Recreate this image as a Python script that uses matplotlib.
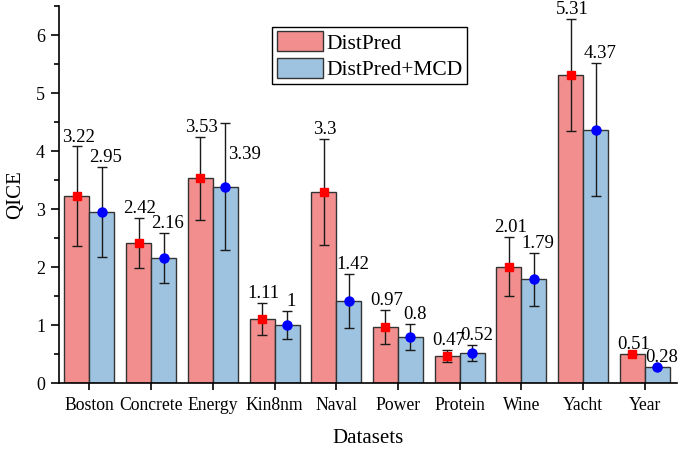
import matplotlib
matplotlib.use("Agg")
import matplotlib.pyplot as plt
import numpy as np
from matplotlib.ticker import MultipleLocator

plt.rcParams['font.family'] = ['Liberation Serif', 'DejaVu Serif']

categories = ["Boston", "Concrete", "Energy", "Kin8nm", "Naval", "Power",
              "Protein", "Wine", "Yacht", "Year"]
distpred = [3.22, 2.42, 3.53, 1.11, 3.3, 0.97, 0.47, 2.01, 5.31, 0.51]
distpred_err = [0.86, 0.43, 0.71, 0.28, 0.91, 0.30, 0.11, 0.51, 0.96, 0.0]
mcd = [2.95, 2.16, 3.39, 1.0, 1.42, 0.8, 0.52, 1.79, 4.37, 0.28]
mcd_err = [0.78, 0.43, 1.09, 0.24, 0.47, 0.23, 0.14, 0.45, 1.15, 0.0]
series_names = ["DistPred", "DistPred+MCD"]

red_bar = "#F28F8E"
blue_bar = "#9DC3E0"

fig = plt.figure(figsize=(6.79, 4.5), dpi=100)
ax = fig.add_axes([59/679, 1-383.3/450, (677-59)/679, (383.3-6)/450])

x = np.arange(len(categories))
w = 0.405

ax.bar(x - w/2, distpred, w, color=red_bar, edgecolor="#333333", linewidth=1.0,
       label=series_names[0], zorder=2)
ax.bar(x + w/2, mcd, w, color=blue_bar, edgecolor="#333333", linewidth=1.0,
       label=series_names[1], zorder=2)

ax.errorbar(x - w/2, distpred, yerr=distpred_err, fmt='none', ecolor='#1a1a1a',
            elinewidth=1.0, capsize=3.5, capthick=1.0, zorder=3)
ax.errorbar(x + w/2, mcd, yerr=mcd_err, fmt='none', ecolor='#1a1a1a',
            elinewidth=1.0, capsize=3.5, capthick=1.0, zorder=3)
ax.plot(x - w/2, distpred, linestyle='none', marker='s', markersize=6,
        color='#FF0000', zorder=4)
ax.plot(x + w/2, mcd, linestyle='none', marker='o', markersize=6.5,
        color='#0000FF', zorder=4)

label_fs = 13.5
for xi, v, e in zip(x - w/2, distpred, distpred_err):
    ax.annotate(f"{v:g}", (xi, v + e), xytext=(1, 3.5), textcoords='offset points',
                ha='center', va='baseline', fontsize=label_fs)
for i, (xi, v, e) in enumerate(zip(x + w/2, mcd, mcd_err)):
    if categories[i] == "Energy":
        ax.annotate(f"{v:g}", (xi, v + e/2), xytext=(2, 0), textcoords='offset points',
                    ha='left', va='center', fontsize=label_fs)
    else:
        ax.annotate(f"{v:g}", (xi, v + e), xytext=(3, 3.5), textcoords='offset points',
                    ha='center', va='baseline', fontsize=label_fs)

ax.set_xlim(-0.491, 9.52)
ax.set_ylim(0, 6.5)
ax.set_xticks(x)
ax.set_xticklabels(categories)
ax.yaxis.set_major_locator(MultipleLocator(1))
ax.yaxis.set_minor_locator(MultipleLocator(0.5))

ax.spines['top'].set_visible(False)
ax.spines['right'].set_visible(False)
ax.spines['left'].set_linewidth(1.2)
ax.spines['bottom'].set_linewidth(1.2)
ax.tick_params(axis='y', which='major', direction='out', length=6, width=1.2,
               labelsize=13, pad=4)
ax.tick_params(axis='y', which='minor', direction='out', length=3.5, width=1.2)
ax.tick_params(axis='x', which='major', direction='out', length=5, width=1.2,
               labelsize=12.7, pad=5)

ax.set_xlabel("Datasets", fontsize=15, labelpad=11)
ax.set_ylabel("QICE", fontsize=15, labelpad=8)

leg = ax.legend(loc='upper left', bbox_to_anchor=(0.345, 0.945), fontsize=15.5,
                frameon=True, fancybox=False, framealpha=1, edgecolor='black',
                borderaxespad=0, borderpad=0.2, labelspacing=0.19,
                handlelength=2.14, handleheight=1.07, handletextpad=0.2)
leg.get_frame().set_linewidth(1.0)

fig.savefig("out.png", dpi=100)
